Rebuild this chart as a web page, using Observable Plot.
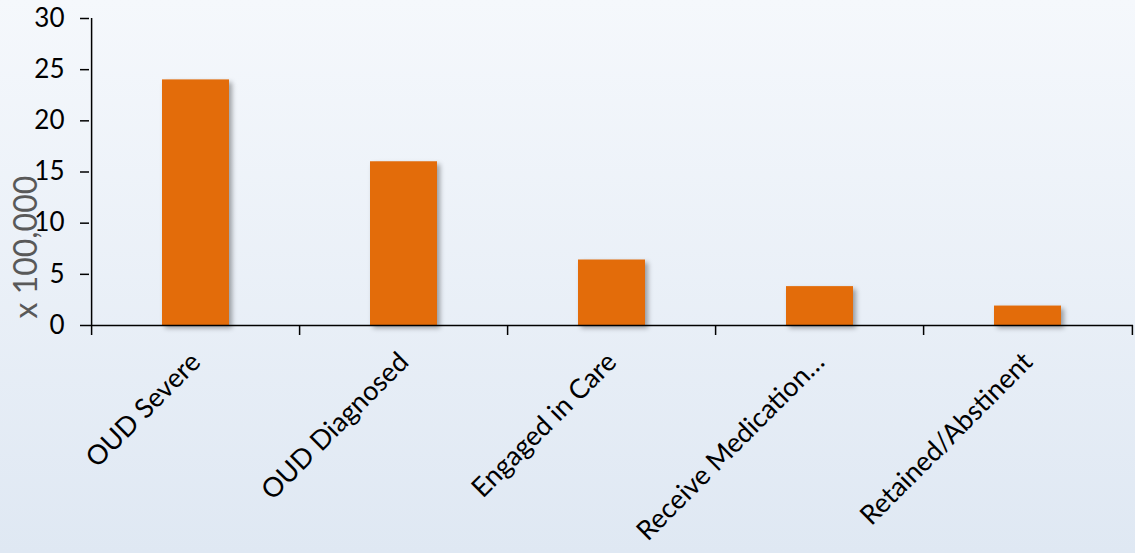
<!DOCTYPE html>
<html>
<head>
<meta charset="utf-8">
<script src="https://cdn.jsdelivr.net/npm/d3@7"></script>
<script src="https://cdn.jsdelivr.net/npm/@observablehq/plot@0.6"></script>
<style>
  html, body { margin: 0; padding: 0; background: linear-gradient(#F5F8FC, #DFE8F3); }
  g[aria-label="bar"] rect { filter: drop-shadow(3px 3px 2.5px rgba(0,0,0,0.35)); }
</style>
</head>
<body>
<div id="chart"></div>
<script>
const categories = ["OUD Severe", "OUD Diagnosed", "Engaged in Care", "Receive Medication…", "Retained/Abstinent"];
const values = [24, 16, 6.4, 3.8, 1.9];
const yTicks = [0, 5, 10, 15, 20, 25, 30];
const yLabel = "x 100,000";

const data = categories.map((c, i) => ({category: c, value: values[i]}));

const W = 1135, H = 553;
const mL = 89, mR = 2, mT = 18, mB = 228;
const halfStep = (W - mL - mR) / categories.length / 2;
const font = "Lato, 'Open Sans', sans-serif";

const chart = Plot.plot({
  width: W,
  height: H,
  marginLeft: mL,
  marginRight: mR,
  marginTop: mT,
  marginBottom: mB,
  style: {background: "transparent", fontFamily: font, fontSize: "26px", color: "#000"},
  x: {domain: categories, paddingInner: 0.68, paddingOuter: 0.34, label: null},
  y: {domain: [0, 30], label: null},
  marks: [
    Plot.barY(data, {x: "category", y: "value", fill: "#E36C0A"}),
    Plot.ruleY([0], {stroke: "#000", strokeWidth: 1.5}),
    Plot.ruleX([categories[0]], {x: d => d, dx: -halfStep, y1: 0, y2: 30, stroke: "#000", strokeWidth: 1.5}),
    Plot.ruleX(categories, {x: d => d, dx: -halfStep, y1: 0, y2: 0, insetBottom: -10, stroke: "#000", strokeWidth: 1.5}),
    Plot.ruleX([categories[categories.length - 1]], {x: d => d, dx: halfStep, y1: 0, y2: 0, insetBottom: -10, stroke: "#000", strokeWidth: 1.5}),
    Plot.axisY({ticks: yTicks, tickSize: 9, tickPadding: 16, stroke: "#000", strokeWidth: 1.5, fontSize: 26, label: null}),
    Plot.axisX({tickSize: 0, tickRotate: -45, tickPadding: 32, fontSize: 27, label: null}),
    Plot.text([yLabel], {frameAnchor: "bottom-left", rotate: -90, textAnchor: "start", lineAnchor: "bottom", dx: -53, dy: -7, fill: "#595959", fontSize: 32, fontFamily: font})
  ]
});
document.getElementById("chart").appendChild(chart);
</script>
</body>
</html>
